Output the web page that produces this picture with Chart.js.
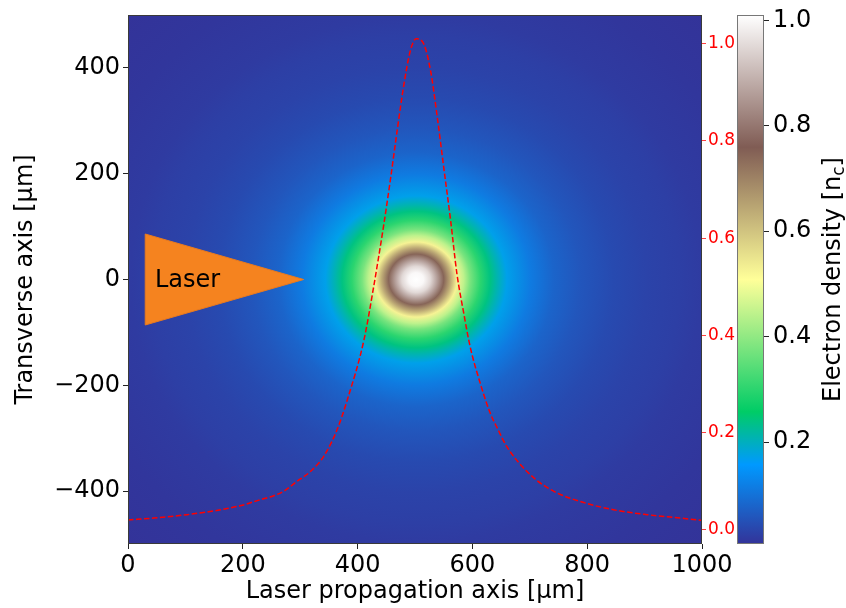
<!DOCTYPE html>
<html>
<head>
<meta charset="utf-8">
<script src="https://cdn.jsdelivr.net/npm/chart.js@4.4.1/dist/chart.umd.min.js"></script>
<style>
  html, body { margin: 0; padding: 0; background: #fff; }
  #wrap { width: 846px; height: 608px; }
</style>
</head>
<body>
<div id="wrap"><canvas id="chart" width="846" height="608"></canvas></div>
<script>
// ── Data ──────────────────────────────────────────────────────────────────────
// lineout of the electron density along y = 0 (red dashed curve, right axis)
const lineX = [0, 45, 103, 161, 201, 231, 254, 271, 294, 318, 341, 364, 382, 411, 428, 445, 457, 469, 480, 492,
               502, 515, 527, 538, 550, 562, 573, 585, 596, 614, 631, 643, 660, 701, 742, 788, 846, 904, 962, 1000];
const lineN = [0.020, 0.024, 0.031, 0.041, 0.051, 0.062, 0.070, 0.079, 0.099, 0.120, 0.151, 0.205, 0.267, 0.390, 0.500, 0.623, 0.719, 0.822, 0.911, 0.986,
               1.010, 1.000, 0.945, 0.856, 0.746, 0.637, 0.527, 0.445, 0.377, 0.300, 0.240, 0.210, 0.171, 0.113, 0.079, 0.058, 0.041, 0.031, 0.024, 0.019];

// radial density profile of the 2D map (distance from the centre, µm)
const radialR = [0, 13, 25, 36, 48, 60, 71, 83, 94, 112, 129, 141, 158, 199, 240, 286, 344, 402, 460, 498, 600, 707];
const radialN = [1.010, 1.000, 0.950, 0.865, 0.746, 0.637, 0.527, 0.445, 0.377, 0.300, 0.240, 0.210, 0.171, 0.113,
                 0.079, 0.058, 0.041, 0.031, 0.024, 0.019, 0.012, 0.007];

const xTicks = [0, 200, 400, 600, 800, 1000];
const yTicks = [-400, -200, 0, 200, 400];
const lineTicks = [0.0, 0.2, 0.4, 0.6, 0.8, 1.0];
const cbarTicks = [0.2, 0.4, 0.6, 0.8, 1.0];

const DENS_MIN = 0.007;
const DENS_MAX = 1.01;

// laser marker (triangle) in data coordinates
const laserShape = [{ x: 30, y: 86 }, { x: 306, y: 0 }, { x: 30, y: -86 }, { x: 30, y: 86 }];

// matplotlib "terrain" colormap
const TERRAIN_POS = [0, 0.15, 0.25, 0.5, 0.75, 1];
const TERRAIN_RGB = [[51, 51, 153], [0, 153, 255], [0, 204, 102], [255, 255, 153], [128, 92, 84], [255, 255, 255]];

const FONT = "'DejaVu Sans', sans-serif";
Chart.defaults.font.family = FONT;

function rgb(c) { return `rgb(${c[0]},${c[1]},${c[2]})`; }

function terrain(t) {
  t = Math.min(1, Math.max(0, t));
  for (let i = 1; i < TERRAIN_POS.length; i++) {
    if (t <= TERRAIN_POS[i]) {
      const f = (t - TERRAIN_POS[i - 1]) / (TERRAIN_POS[i] - TERRAIN_POS[i - 1]);
      const a = TERRAIN_RGB[i - 1], b = TERRAIN_RGB[i];
      return rgb([0, 1, 2].map(k => Math.round(a[k] + (b[k] - a[k]) * f)));
    }
  }
  return rgb(TERRAIN_RGB[TERRAIN_RGB.length - 1]);
}

const peakX = lineX[lineN.indexOf(Math.max(...lineN))];

// ── Plugins ───────────────────────────────────────────────────────────────────
const densityMap = {
  id: "densityMap",
  beforeDatasetsDraw(chart) {
    const { ctx, chartArea: a, scales: { x, y } } = chart;
    const rMax = radialR[radialR.length - 1];
    const cx = x.getPixelForValue(peakX);
    const cy = y.getPixelForValue(0);
    const rx = x.getPixelForValue(peakX + rMax) - cx;
    const ry = cy - y.getPixelForValue(rMax);
    ctx.save();
    ctx.beginPath();
    ctx.rect(a.left, a.top, a.width, a.height);
    ctx.clip();
    ctx.translate(cx, cy);
    ctx.scale(1, ry / rx);
    const g = ctx.createRadialGradient(0, 0, 0, 0, 0, rx);
    radialR.forEach((r, i) => {
      g.addColorStop(r / rMax, terrain((radialN[i] - DENS_MIN) / (DENS_MAX - DENS_MIN)));
    });
    ctx.fillStyle = g;
    ctx.fillRect(-3000, -3000, 6000, 6000);
    ctx.restore();
  },
  afterDatasetsDraw(chart) {
    const { ctx, chartArea: a, scales: { x, y } } = chart;
    ctx.save();
    ctx.fillStyle = "#000";
    ctx.font = `24px ${FONT}`;
    ctx.textAlign = "left";
    ctx.textBaseline = "middle";
    ctx.fillText("Laser", x.getPixelForValue(47), y.getPixelForValue(0) + 1);
    ctx.strokeStyle = "#3a3a3a";
    ctx.lineWidth = 1;
    ctx.strokeRect(a.left + 0.5, a.top + 0.5, a.width - 1, a.height - 1);
    ctx.restore();
  },
};

const colorBar = {
  id: "colorBar",
  afterDraw(chart) {
    const { ctx } = chart;
    const cb = chart.scales.cb;
    const w = 27;
    const x0 = cb.left - w;
    const g = ctx.createLinearGradient(0, cb.bottom, 0, cb.top);
    TERRAIN_POS.forEach((p, i) => g.addColorStop(p, rgb(TERRAIN_RGB[i])));
    ctx.save();
    ctx.fillStyle = g;
    ctx.fillRect(x0, cb.top, w, cb.bottom - cb.top);
    ctx.strokeStyle = "#777";
    ctx.lineWidth = 1;
    ctx.strokeRect(x0 + 0.5, cb.top + 0.5, w - 1, cb.bottom - cb.top - 1);

    // title with subscript, rotated
    const main = "Electron density [n";
    const sub = "c";
    const tail = "]";
    ctx.fillStyle = "#000";
    ctx.textBaseline = "alphabetic";
    ctx.font = `24px ${FONT}`;
    const w1 = ctx.measureText(main).width;
    const w3 = ctx.measureText(tail).width;
    ctx.font = `17px ${FONT}`;
    const w2 = ctx.measureText(sub).width;
    const total = w1 + w2 + w3;
    ctx.translate(840, (cb.top + cb.bottom) / 2);
    ctx.rotate(-Math.PI / 2);
    let u = -total / 2;
    ctx.textAlign = "left";
    ctx.font = `24px ${FONT}`;
    ctx.fillText(main, u, 0);
    u += w1;
    ctx.font = `17px ${FONT}`;
    ctx.fillText(sub, u, 4);
    u += w2;
    ctx.font = `24px ${FONT}`;
    ctx.fillText(tail, u, 0);
    ctx.restore();
  },
};

// ── Chart ─────────────────────────────────────────────────────────────────────
const noPad = s => { s.paddingTop = 0; s.paddingBottom = 0; s.paddingLeft = 0; s.paddingRight = 0; };
const setTicks = list => s => { s.ticks = list.map(v => ({ value: v })); };

new Chart(document.getElementById("chart"), {
  type: "scatter",
  data: {
    datasets: [
      {
        label: "lineout",
        data: lineX.map((x, i) => ({ x, y: lineN[i] })),
        yAxisID: "y2",
        showLine: true,
        borderColor: "#ff0000",
        borderWidth: 1.5,
        borderDash: [5.5, 2.5],
        pointRadius: 0,
        cubicInterpolationMode: "monotone",
        fill: false,
      },
      {
        label: "laser",
        data: laserShape,
        yAxisID: "y",
        showLine: true,
        borderColor: "#e97a1e",
        borderWidth: 1,
        backgroundColor: "#f5831f",
        pointRadius: 0,
        tension: 0,
        fill: "shape",
      },
    ],
  },
  options: {
    responsive: false,
    devicePixelRatio: 1,
    animation: false,
    layout: { padding: { top: 15, left: 0, right: 0, bottom: 0 } },
    plugins: { legend: { display: false }, tooltip: { enabled: false } },
    scales: {
      x: {
        type: "linear", position: "bottom", min: 0, max: 1000,
        afterBuildTicks: setTicks(xTicks),
        afterFit: s => { s.height = 64; noPad(s); },
        grid: { drawOnChartArea: false, drawTicks: true, tickLength: 5, color: "#222" },
        border: { display: false },
        ticks: { color: "#000", font: { size: 24 }, padding: 2, maxRotation: 0, autoSkip: false,
                 callback: v => String(v) },
        title: { display: true, text: "Laser propagation axis [μm]", color: "#000", font: { size: 24 }, padding: { top: 0, bottom: 2 } },
      },
      y: {
        type: "linear", position: "left", min: -500, max: 500,
        afterBuildTicks: setTicks(yTicks),
        afterFit: s => { s.width = 128; noPad(s); },
        grid: { drawOnChartArea: false, drawTicks: true, tickLength: 5, color: "#222" },
        border: { display: false },
        ticks: { color: "#000", font: { size: 24 }, padding: 3, autoSkip: false,
                 callback: v => String(v).replace("-", "\u2212") },
        title: { display: true, text: "Transverse axis [μm]", color: "#000", font: { size: 24 }, padding: { top: 11, bottom: 0 } },
      },
      y2: {
        type: "linear", position: "right", min: -0.0294, max: 1.059,
        afterBuildTicks: setTicks(lineTicks),
        afterFit: s => { s.width = 62; noPad(s); },
        grid: { drawOnChartArea: false, drawTicks: true, tickLength: 4, color: "rgba(255,0,0,0.75)" },
        border: { display: false },
        ticks: { color: "#ff0000", font: { size: 17 }, padding: 2, autoSkip: false, callback: v => v.toFixed(1) },
      },
      cb: {
        type: "linear", position: "right", min: DENS_MIN, max: DENS_MAX,
        afterBuildTicks: setTicks(cbarTicks),
        afterFit: s => { s.width = 82; noPad(s); },
        grid: { drawOnChartArea: false, drawTicks: true, tickLength: 5, color: "#222" },
        border: { display: false },
        ticks: { color: "#000", font: { size: 24 }, padding: 4, autoSkip: false, callback: v => v.toFixed(1) },
      },
    },
  },
  plugins: [densityMap, colorBar],
});
</script>
</body>
</html>
